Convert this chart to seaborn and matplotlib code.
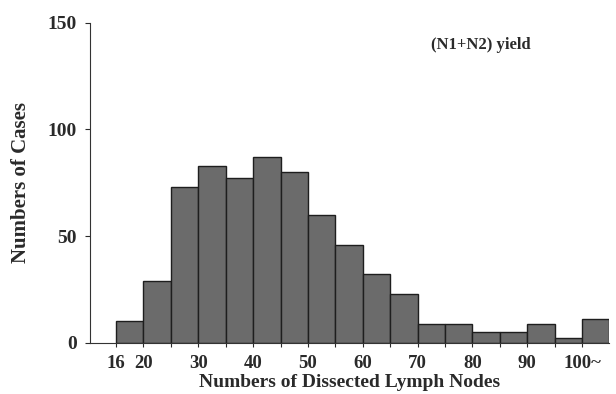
import matplotlib
matplotlib.use("Agg")
import matplotlib.pyplot as plt
import numpy as np
import pandas as pd
import seaborn as sns

# bins of dissected lymph node counts (equal-width bars), last bin = 100~
bin_starts = [16, 20, 25, 30, 35, 40, 45, 50, 55, 60, 65, 70, 75, 80, 85, 90, 95, 100]
bin_labels = ['16-19', '20-24', '25-29', '30-34', '35-39', '40-44', '45-49', '50-54', '55-59',
              '60-64', '65-69', '70-74', '75-79', '80-84', '85-89', '90-94', '95-99', '100~']
n_cases = [10, 29, 73, 83, 77, 87, 80, 60, 46, 32, 23, 9, 9, 5, 5, 9, 2, 11]
x_tick_values = [16, 20, 30, 40, 50, 60, 70, 80, 90, 100]
y_ticks = [0, 50, 100, 150]

df = pd.DataFrame({'bin': bin_labels, 'cases': n_cases})

sns.set_style("ticks")
plt.rcParams['font.family'] = ['Liberation Serif', 'DejaVu Serif']
plt.rcParams['font.weight'] = 'bold'

fig = plt.figure(figsize=(6.16, 3.94), dpi=100)
ax = fig.add_axes([0.1461, 0.1302, 0.8433, 0.8122])

sns.barplot(data=df, x='bin', y='cases', order=bin_labels, width=1.0, ax=ax,
            color='#6b6b6b', saturation=1, edgecolor='#1e1e1e', linewidth=1.0)

# tick at every bar edge, label only the round values
edges = np.arange(len(bin_labels)) - 0.5
ax.set_xticks(edges)
ax.set_xticklabels([('100~' if v == 100 else str(v)) if v in x_tick_values else ''
                    for v in bin_starts], fontsize=13.5, fontweight='bold', color='#2a2a2a')
for lab in ax.get_xticklabels():
    if lab.get_text() == '100~':
        lab.set_x(16.8)
    elif lab.get_text():
        lab.set_x(lab.get_position()[0] + 0.1)

ax.set_xlim(-1.45, 17.5)
ax.set_ylim(0, 150)
ax.set_yticks(y_ticks)
ax.set_yticklabels([str(v) for v in y_ticks], fontsize=14, fontweight='bold', color='#2a2a2a')
ax.tick_params(axis='x', length=3, width=0.8, pad=6, colors='#2a2a2a')
ax.tick_params(axis='y', length=3.5, width=0.8, pad=6, colors='#2a2a2a')

sns.despine(ax=ax, top=True, right=True)
ax.spines['left'].set_color('#333333')
ax.spines['bottom'].set_color('#333333')

ax.set_xlabel('Numbers of Dissected Lymph Nodes', fontsize=14, fontweight='bold', color='#2a2a2a', labelpad=1)
ax.set_ylabel('Numbers of Cases', fontsize=15, fontweight='bold', color='#2a2a2a', labelpad=12)
ax.text(12.82, 139.5, '(N1+N2) yield', fontsize=12, fontweight='bold', color='#2a2a2a',
        ha='center', va='center')

fig.savefig('out.png', dpi=100)
